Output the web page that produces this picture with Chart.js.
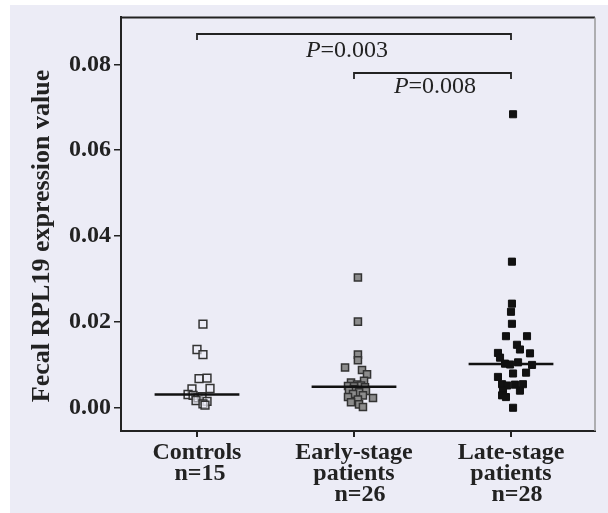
<!DOCTYPE html>
<html>
<head>
<meta charset="utf-8">
<script src="https://cdn.jsdelivr.net/npm/chart.js@4"></script>
<style>
  html, body { margin: 0; padding: 0; background: #fff; }
  #wrap { position: absolute; left: 0; top: 0; width: 608px; height: 513px; }
</style>
</head>
<body>
<div id="wrap"><canvas id="chart" width="608" height="513"></canvas></div>
<script>
// groups on the x axis (1, 2, 3)
const groupLabels = [
  ['Controls', ' n=15'],
  ['Early-stage', 'patients', '  n=26'],
  ['Late-stage', 'patients', '  n=28']
];
const yTicks = [0, 0.02, 0.04, 0.06, 0.08];

// values, with the horizontal jitter (in group units)
const controlsValues = [0.0194, 0.0135, 0.0123, 0.0067, 0.0068, 0.0043, 0.0044, 0.0030,
  0.0028, 0.0022, 0.0025, 0.0016, 0.0014, 0.0008, 0.0005];
const controlsJitter = [0.038, 0, 0.038, 0.013, 0.064, -0.032, 0.083, -0.057,
  -0.025, 0.006, 0.032, -0.006, 0.064, 0.038, 0.051];

const earlyValues = [0.0303, 0.0200, 0.0123, 0.0110, 0.0093, 0.0087, 0.0077, 0.0062, 0.0058,
  0.0053, 0.0051, 0.0050, 0.0049, 0.0047, 0.0043, 0.0039, 0.0038, 0.0035, 0.0031, 0.0028,
  0.0024, 0.0022, 0.0018, 0.0012, 0.0007, 0.0001];
const earlyJitter = [0.025, 0.025, 0.025, 0.025, -0.057, 0.051, 0.083, 0.064, -0.019,
  0.019, 0.045, -0.038, 0, 0.07, 0, -0.032, 0.076, 0.032, -0.006, 0.057,
  -0.038, 0.121, 0.025, -0.019, 0.032, 0.057];

const lateValues = [0.0684, 0.0340, 0.0242, 0.0223, 0.0195, 0.0166, 0.0166, 0.0146, 0.0135,
  0.0127, 0.0126, 0.0116, 0.0105, 0.0102, 0.0100, 0.0099, 0.0081, 0.0079, 0.0071, 0.0054,
  0.0053, 0.0054, 0.0051, 0.0039, 0.0039, 0.0028, 0.0024, -0.0001];
const lateJitter = [0.013, 0.006, 0.006, 0, 0.006, -0.032, 0.102, 0.038, 0.057,
  -0.083, 0.121, -0.07, 0.045, -0.038, -0.006, 0.134, 0.096, 0.013, -0.083, -0.057,
  0.025, 0.076, -0.025, -0.051, 0.057, -0.057, -0.032, 0.013];

const medians = [0.0030, 0.0048, 0.0101];

// significance brackets
const comparisons = [
  { from: 1, to: 3, p: '0.003' },
  { from: 2, to: 3, p: '0.008' }
];

const ink = '#222';
const serif = '"Liberation Serif", "Times New Roman", serif';

function points(values, jitter, group) {
  return values.map((v, i) => ({ x: group + jitter[i], y: v }));
}

function medianLine(group, v) {
  return {
    type: 'line',
    data: [{ x: group - 0.27, y: v }, { x: group + 0.27, y: v }],
    borderColor: '#111',
    borderWidth: 2.5,
    pointRadius: 0,
    order: 0
  };
}

const frame = {
  id: 'frame',
  beforeDraw(chart) {
    const c = chart.ctx;
    c.save();
    c.fillStyle = '#fff';
    c.fillRect(0, 0, chart.width, chart.height);
    c.fillStyle = '#ececf6';
    c.fillRect(10, 5, chart.width - 10, chart.height - 5);
    c.restore();
  },
  afterDraw(chart) {
    const { ctx: c, chartArea: a, scales: { x } } = chart;
    c.save();
    // top and right sides of the box
    c.strokeStyle = ink;
    c.lineWidth = 2;
    c.beginPath();
    c.moveTo(a.left, a.top);
    c.lineTo(a.right, a.top);
    c.stroke();
    c.strokeStyle = '#9a9a9a';
    c.lineWidth = 1.5;
    c.beginPath();
    c.moveTo(a.right, a.top);
    c.lineTo(a.right, a.bottom);
    c.stroke();

    // y title
    c.fillStyle = ink;
    c.font = 'bold 26px ' + serif;
    c.textAlign = 'center';
    c.textBaseline = 'middle';
    c.translate(42, 236);
    c.rotate(-Math.PI / 2);
    c.fillText('Fecal RPL19 expression value', 0, 0);
    c.restore();

    // brackets with p values
    const bracketY = [34, 73];
    const labelY = [51, 87];
    const labelX = [347, 435];
    c.save();
    c.strokeStyle = ink;
    c.lineWidth = 1.8;
    comparisons.forEach((cmp, i) => {
      const x0 = x.getPixelForValue(cmp.from);
      const x1 = x.getPixelForValue(cmp.to);
      const by = bracketY[i];
      c.beginPath();
      c.moveTo(x0, by + 6);
      c.lineTo(x0, by);
      c.lineTo(x1, by);
      c.lineTo(x1, by + 6);
      c.stroke();
      c.fillStyle = ink;
      c.textBaseline = 'middle';
      c.font = 'italic 24px ' + serif;
      const pW = c.measureText('P').width;
      c.font = '24px ' + serif;
      const rest = '=' + cmp.p;
      const rW = c.measureText(rest).width;
      const start = labelX[i] - (pW + rW) / 2;
      c.textAlign = 'left';
      c.font = 'italic 24px ' + serif;
      c.fillText('P', start, labelY[i]);
      c.font = '24px ' + serif;
      c.fillText(rest, start + pW, labelY[i]);
    });
    c.restore();
  }
};

new Chart(document.getElementById('chart'), {
  type: 'scatter',
  data: {
    datasets: [
      {
        label: 'Controls',
        data: points(controlsValues, controlsJitter, 1),
        pointStyle: 'rect',
        pointRadius: 5.5,
        backgroundColor: 'rgba(236,236,246,0.6)',
        borderColor: '#333',
        borderWidth: 1.5,
        order: 1
      },
      {
        label: 'Early-stage patients',
        data: points(earlyValues, earlyJitter, 2),
        pointStyle: 'rect',
        pointRadius: 5,
        backgroundColor: '#8c8c8c',
        borderColor: '#333',
        borderWidth: 1.5,
        order: 1
      },
      {
        label: 'Late-stage patients',
        data: points(lateValues, lateJitter, 3),
        pointStyle: 'rect',
        pointRadius: 5,
        backgroundColor: '#111',
        borderColor: '#111',
        borderWidth: 1,
        order: 1
      },
      medianLine(1, medians[0]),
      medianLine(2, medians[1]),
      medianLine(3, medians[2])
    ]
  },
  options: {
    responsive: false,
    animation: false,
    layout: { padding: { top: 11, right: 13, left: 0, bottom: 0 } },
    plugins: {
      legend: { display: false },
      tooltip: { enabled: false }
    },
    scales: {
      x: {
        type: 'linear',
        min: 0.516,
        max: 3.535,
        afterBuildTicks(s) { s.ticks = [1, 2, 3].map(v => ({ value: v })); },
        afterFit(s) { s.height = 82; },
        border: { color: ink, width: 2 },
        grid: { drawOnChartArea: false, color: ink, lineWidth: 2, tickLength: 6 },
        ticks: {
          color: ink,
          padding: 5,
          maxRotation: 0,
          font: { family: serif, size: 24, weight: 'bold', lineHeight: 0.88 },
          callback: v => groupLabels[Math.round(v) - 1]
        }
      },
      y: {
        min: -0.00552,
        max: 0.0910,
        afterBuildTicks(s) { s.ticks = yTicks.map(v => ({ value: v })); },
        afterFit(s) { s.width = 121; },
        border: { color: ink, width: 2 },
        grid: { drawOnChartArea: false, color: ink, lineWidth: 1.5, tickLength: 7 },
        ticks: {
          color: ink,
          padding: 3,
          font: { family: serif, size: 24, weight: 'bold' },
          callback: v => v.toFixed(2)
        }
      }
    }
  },
  plugins: [frame]
});
</script>
</body>
</html>
